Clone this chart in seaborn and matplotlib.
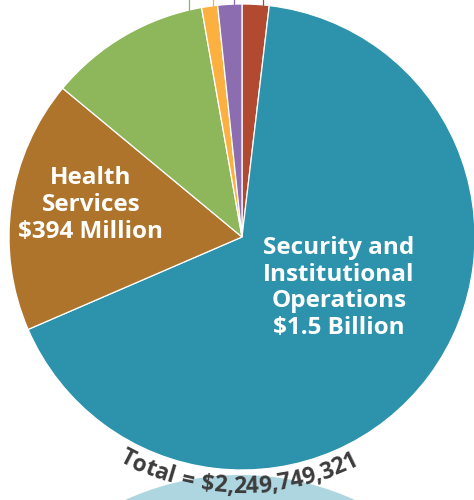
import numpy as np
import matplotlib
matplotlib.use("Agg")
import matplotlib.pyplot as plt
import seaborn as sns
from matplotlib.font_manager import FontProperties, findfont, get_font
from matplotlib.patches import Circle

# Budget shares in millions of dollars, clockwise from 12 o'clock
slice_values = [42.0, 1499.2, 394.0, 252.0, 25.0, 37.5]
slice_colors = ["#B14A30", "#2D93AD", "#AF742B", "#8EB65A", "#FBB040", "#8C6DAF"]
slice_labels = [None, "Security and\nInstitutional\nOperations\n$1.5 Billion",
                "Health\nServices\n$394 Million", None, None, None]
total_text = "Total = $2,249,749,321"

sns.set_theme(style="white")
plt.rcParams["font.family"] = ["Open Sans", "DejaVu Sans"]

W, H = 474, 500
fig = plt.figure(figsize=(W / 100, H / 100), dpi=100)
ax = fig.add_axes([0, 0, 1, 1])

cx, cy, R = 242, 263, 233

# Neighbouring chart peeking in from below
ax.add_patch(Circle((240, -252), 277, facecolor="#AED6E0", edgecolor="none", zorder=0))

wedges, _ = ax.pie(slice_values, colors=slice_colors, startangle=90, counterclock=False,
                   center=(cx, cy), radius=R,
                   wedgeprops=dict(edgecolor="white", linewidth=0.9))

# Leader lines running up from the small slices
leader_x = [189, 213, 234, 263]
leader_slices = [3, 4, 5, 0]
for x, i in zip(leader_x, leader_slices):
    y_edge = cy + np.sqrt(R ** 2 - (x - cx) ** 2)
    ax.plot([x, x], [y_edge - 1, H + 2], color=slice_colors[i], lw=0.9,
            solid_capstyle="butt", zorder=1)

label_pos = {1: (339, 212), 2: (91, 295)}
for i, (x, y) in label_pos.items():
    ax.text(x, y, slice_labels[i], ha="center", va="center", color="white",
            fontsize=17.5, fontweight="bold", linespacing=1.14, zorder=3)

# Total written along an arc under the pie
fs = 16.5
fp = FontProperties(family="Open Sans", weight="bold", size=fs)
font = get_font(findfont(fp))
font.set_size(fs, 100)
adv = [font.load_char(ord(c)).linearHoriAdvance / 65536 for c in total_text]
adv = [a * 1.3 if c == " " else a for c, a in zip(total_text, adv)]
r_base = 256
total_w = sum(adv)
theta_c = np.deg2rad(-90.8)
theta0 = theta_c - (total_w / 2) / r_base
s = 0.0
for c, a in zip(total_text, adv):
    th = theta0 + (s + a / 2) / r_base
    s += a
    if c == " ":
        continue
    x = cx + r_base * np.cos(th)
    y = cy + r_base * np.sin(th)
    ax.text(x, y, c, fontproperties=fp, color="#3C3C3C", ha="center", va="baseline",
            rotation=np.rad2deg(th) + 90, rotation_mode="anchor", zorder=4)

ax.set_xlim(0, W)
ax.set_ylim(0, H)
ax.set_aspect("equal")
ax.axis("off")
fig.savefig("out.png", dpi=100)
